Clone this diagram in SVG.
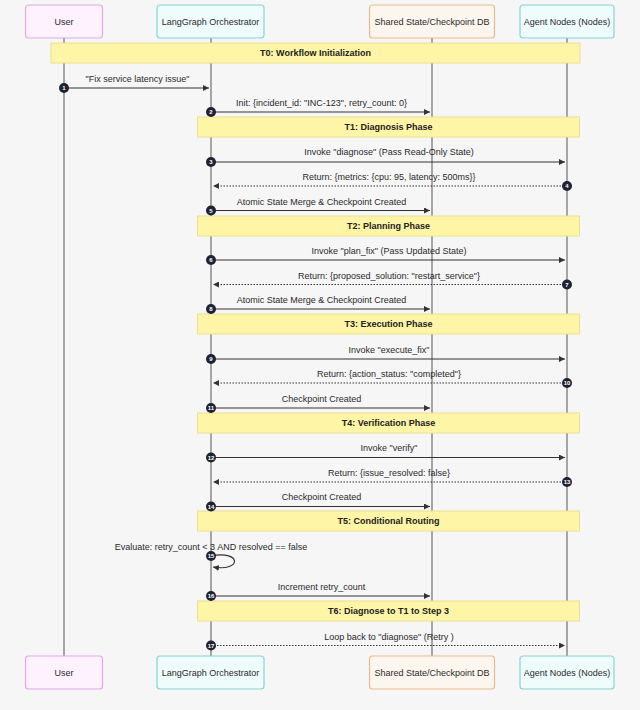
<svg xmlns="http://www.w3.org/2000/svg" width="640" height="710" viewBox="0 0 640 710">
<defs>
<style>
text{font-family:"Liberation Sans",Arial,sans-serif;font-size:9px;fill:#2a2a2a;text-anchor:middle}
.nt{font-weight:bold;fill:#222}
.life{stroke:#555;stroke-width:1}
.msg{stroke:#333;stroke-width:1.2;fill:none}
.dot{stroke:#333;stroke-width:1.2;fill:none;stroke-dasharray:1.5,1.5}
.note{fill:#fff5a6;stroke:#ebe08f;stroke-width:1}
.num circle{fill:#1f2233}
.num text{fill:#fff;font-size:6px;font-weight:bold}
.pu{fill:#fdf2fd;stroke:#e2a8ea;stroke-width:1.2}
.cy{fill:#effcfc;stroke:#84d4d8;stroke-width:1.2}
.or{fill:#fdf6ee;stroke:#e8bb8c;stroke-width:1.2}
</style>
<marker id="ah" viewBox="0 0 8 8" refX="8" refY="4" markerWidth="6" markerHeight="6" markerUnits="userSpaceOnUse" orient="auto">
<path d="M0,0L8,4L0,8z" fill="#333"/>
</marker>
</defs>
<rect width="640" height="710" fill="#f6f6f7"/>
<g id="lifelines">
<line class="life" x1="64" y1="38" x2="64" y2="656"/>
<line class="life" x1="211" y1="38" x2="211" y2="656"/>
<line class="life" x1="432" y1="38" x2="432" y2="656"/>
<line class="life" x1="567" y1="38" x2="567" y2="656"/>
</g>
<g id="actor-user">
<rect class="pu" x="25.5" y="5" width="77" height="33" rx="3"/>
<text x="64" y="24.5">User</text>
<rect class="pu" x="25.5" y="656" width="77" height="33" rx="3"/>
<text x="64" y="675.5">User</text>
</g>
<g id="actor-orchestrator">
<rect class="cy" x="157" y="5" width="107" height="33" rx="3"/>
<text x="210.5" y="24.5">LangGraph Orchestrator</text>
<rect class="cy" x="157" y="656" width="107" height="33" rx="3"/>
<text x="210.5" y="675.5">LangGraph Orchestrator</text>
</g>
<g id="actor-db">
<rect class="or" x="369.5" y="5" width="125" height="33" rx="3"/>
<text x="432" y="24.5">Shared State/Checkpoint DB</text>
<rect class="or" x="369.5" y="656" width="125" height="33" rx="3"/>
<text x="432" y="675.5">Shared State/Checkpoint DB</text>
</g>
<g id="actor-agents">
<rect class="cy" x="520" y="5" width="94" height="33" rx="3"/>
<text x="567" y="24.5">Agent Nodes (Nodes)</text>
<rect class="cy" x="520" y="656" width="94" height="33" rx="3"/>
<text x="567" y="675.5">Agent Nodes (Nodes)</text>
</g>
<g id="notes">
<g id="note-t0"><rect class="note" x="51" y="43" width="529" height="20"/><text class="nt" x="315.5" y="56">T0: Workflow Initialization</text></g>
<g id="note-t1"><rect class="note" x="197.5" y="117" width="382" height="20"/><text class="nt" x="388.5" y="130">T1: Diagnosis Phase</text></g>
<g id="note-t2"><rect class="note" x="197.5" y="216" width="382" height="20"/><text class="nt" x="388.5" y="229">T2: Planning Phase</text></g>
<g id="note-t3"><rect class="note" x="197.5" y="314" width="382" height="20"/><text class="nt" x="388.5" y="327">T3: Execution Phase</text></g>
<g id="note-t4"><rect class="note" x="197.5" y="413" width="382" height="20"/><text class="nt" x="388.5" y="426">T4: Verification Phase</text></g>
<g id="note-t5"><rect class="note" x="197.5" y="511" width="382" height="20"/><text class="nt" x="388.5" y="524">T5: Conditional Routing</text></g>
<g id="note-t6"><rect class="note" x="197.5" y="601" width="382" height="20"/><text class="nt" x="388.5" y="614">T6: Diagnose to T1 to Step 3</text></g>
</g>
<g id="connectors">
<line class="msg" x1="64" y1="88" x2="209" y2="88" marker-end="url(#ah)"/>
<text x="137.5" y="82">"Fix service latency issue"</text>
<line class="msg" x1="211" y1="112" x2="430" y2="112" marker-end="url(#ah)"/>
<text x="321.5" y="106">Init: {incident_id: "INC-123", retry_count: 0}</text>
<line class="msg" x1="211" y1="162" x2="565" y2="162" marker-end="url(#ah)"/>
<text x="389" y="155">Invoke "diagnose" (Pass Read-Only State)</text>
<line class="dot" x1="567" y1="186" x2="213" y2="186" marker-end="url(#ah)"/>
<text x="389" y="180">Return: {metrics: {cpu: 95, latency: 500ms}}</text>
<line class="msg" x1="211" y1="210.5" x2="430" y2="210.5" marker-end="url(#ah)"/>
<text x="321.5" y="204.5">Atomic State Merge &amp; Checkpoint Created</text>
<line class="msg" x1="211" y1="260" x2="565" y2="260" marker-end="url(#ah)"/>
<text x="389" y="254">Invoke "plan_fix" (Pass Updated State)</text>
<line class="dot" x1="567" y1="284.5" x2="213" y2="284.5" marker-end="url(#ah)"/>
<text x="389" y="279">Return: {proposed_solution: "restart_service"}</text>
<line class="msg" x1="211" y1="309" x2="430" y2="309" marker-end="url(#ah)"/>
<text x="321.5" y="303">Atomic State Merge &amp; Checkpoint Created</text>
<line class="msg" x1="211" y1="359" x2="565" y2="359" marker-end="url(#ah)"/>
<text x="389" y="352.5">Invoke "execute_fix"</text>
<line class="dot" x1="567" y1="383" x2="213" y2="383" marker-end="url(#ah)"/>
<text x="389" y="377">Return: {action_status: "completed"}</text>
<line class="msg" x1="211" y1="408" x2="430" y2="408" marker-end="url(#ah)"/>
<text x="321.5" y="402">Checkpoint Created</text>
<line class="msg" x1="211" y1="457.5" x2="565" y2="457.5" marker-end="url(#ah)"/>
<text x="389" y="451">Invoke "verify"</text>
<line class="dot" x1="567" y1="482" x2="213" y2="482" marker-end="url(#ah)"/>
<text x="389" y="476">Return: {issue_resolved: false}</text>
<line class="msg" x1="211" y1="506.5" x2="430" y2="506.5" marker-end="url(#ah)"/>
<text x="321.5" y="500">Checkpoint Created</text>
<path class="msg" d="M211,556 C242,550 242,572 213,567" marker-end="url(#ah)"/>
<text x="211" y="550">Evaluate: retry_count &lt; 3 AND resolved == false</text>
<line class="msg" x1="211" y1="596" x2="430" y2="596" marker-end="url(#ah)"/>
<text x="321.5" y="590">Increment retry_count</text>
<line class="dot" x1="211" y1="645.5" x2="565" y2="645.5" marker-end="url(#ah)"/>
<text x="389" y="639.5">Loop back to "diagnose" (Retry )</text>
</g>
<g id="sequence-numbers" class="num">
<g><circle cx="64" cy="88" r="5"/><text x="64" y="90.2">1</text></g>
<g><circle cx="211" cy="112" r="5"/><text x="211" y="114.2">2</text></g>
<g><circle cx="211" cy="162" r="5"/><text x="211" y="164.2">3</text></g>
<g><circle cx="567" cy="186" r="5"/><text x="567" y="188.2">4</text></g>
<g><circle cx="211" cy="210.5" r="5"/><text x="211" y="212.7">5</text></g>
<g><circle cx="211" cy="260" r="5"/><text x="211" y="262.2">6</text></g>
<g><circle cx="567" cy="284.5" r="5"/><text x="567" y="286.7">7</text></g>
<g><circle cx="211" cy="309" r="5"/><text x="211" y="311.2">8</text></g>
<g><circle cx="211" cy="359" r="5"/><text x="211" y="361.2">9</text></g>
<g><circle cx="567" cy="383" r="5"/><text x="567" y="385.2">10</text></g>
<g><circle cx="211" cy="408" r="5"/><text x="211" y="410.2">11</text></g>
<g><circle cx="211" cy="457.5" r="5"/><text x="211" y="459.7">12</text></g>
<g><circle cx="567" cy="482" r="5"/><text x="567" y="484.2">13</text></g>
<g><circle cx="211" cy="506.5" r="5"/><text x="211" y="508.7">14</text></g>
<g><circle cx="211" cy="556" r="5"/><text x="211" y="558.2">15</text></g>
<g><circle cx="211" cy="596" r="5"/><text x="211" y="598.2">16</text></g>
<g><circle cx="211" cy="645.5" r="5"/><text x="211" y="647.7">17</text></g>
</g>
</svg>
